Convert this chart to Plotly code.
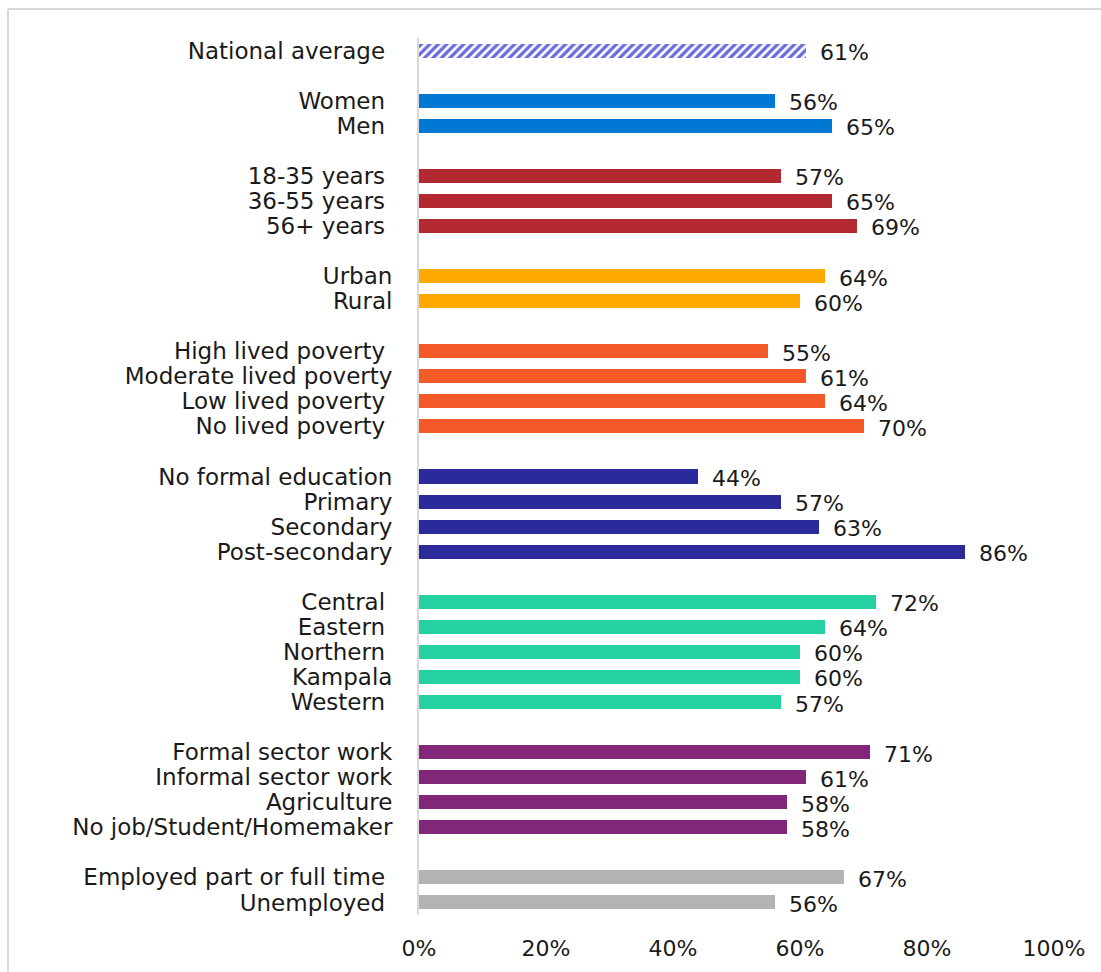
import plotly.graph_objects as go

# Row labels, top to bottom; None marks the blank spacer rows between groups.
labels = [
    "National average\u00a0", None,
    "Women\u00a0", "Men\u00a0", None,
    "18-35 years\u00a0", "36-55 years\u00a0", "56+ years\u00a0", None,
    "Urban", "Rural", None,
    "High lived poverty\u00a0", "Moderate lived poverty", "Low lived poverty\u00a0", "No lived poverty\u00a0", None,
    "No formal education", "Primary", "Secondary", "Post-secondary", None,
    "Central\u00a0", "Eastern\u00a0", "Northern\u00a0", "Kampala", "Western\u00a0", None,
    "Formal sector work", "Informal sector work", "Agriculture", "No job/Student/Homemaker", None,
    "Employed part or full time\u00a0", "Unemployed\u00a0",
]

values = [
    61, None,
    56, 65, None,
    57, 65, 69, None,
    64, 60, None,
    55, 61, 64, 70, None,
    44, 57, 63, 86, None,
    72, 64, 60, 60, 57, None,
    71, 61, 58, 58, None,
    67, 56,
]

group_colors = [
    "#6B6BDD", None,
    "#0078D4", "#0078D4", None,
    "#B22A2F", "#B22A2F", "#B22A2F", None,
    "#FFAA00", "#FFAA00", None,
    "#F4592A", "#F4592A", "#F4592A", "#F4592A", None,
    "#2A2A9A", "#2A2A9A", "#2A2A9A", "#2A2A9A", None,
    "#24D1A0", "#24D1A0", "#24D1A0", "#24D1A0", "#24D1A0", None,
    "#83277A", "#83277A", "#83277A", "#83277A", None,
    "#B3B3B3", "#B3B3B3",
]

x_ticks = [0, 20, 40, 60, 80, 100]
x_tick_text = [f"{t}%" for t in x_ticks]

FONT = "DejaVu Sans"
LABEL_SIZE = 23
VALUE_SIZE = 22
TEXT_COLOR = "#1a1a1a"

rows = [i for i, v in enumerate(values) if v is not None]
vals = [values[i] for i in rows]
cols = [group_colors[i] for i in rows]
ticks = [labels[i] for i in rows]

BAR_WIDTH = 0.56

fig = go.Figure()

# National average: hatched bar
fig.add_trace(go.Bar(
    x=[vals[0]],
    y=[rows[0]],
    orientation="h",
    width=BAR_WIDTH,
    marker=dict(
        color="white",
        line=dict(width=0),
        pattern=dict(
            shape="/",
            fgcolor=cols[0],
            fgopacity=1,
            bgcolor="white",
            size=6,
            solidity=0.55,
            fillmode="overlay",
        ),
    ),
    hoverinfo="skip",
))

# Subgroup bars: solid fills coloured by group
fig.add_trace(go.Bar(
    x=vals[1:],
    y=rows[1:],
    orientation="h",
    width=BAR_WIDTH,
    marker=dict(color=cols[1:], line=dict(width=0)),
    hoverinfo="skip",
))

annotations = []
for y, v in zip(rows, vals):
    annotations.append(dict(
        x=v, y=y, xref="x", yref="y",
        text=f"{v}%",
        showarrow=False,
        xanchor="left",
        yanchor="middle",
        xshift=12,
        yshift=-2,
        font=dict(family=FONT, size=VALUE_SIZE, color=TEXT_COLOR),
    ))

# Chart frame: top and left edges (the others fall outside the page)
frame_left = (8 - 419) / 635
frame_top = (915 - 9) / 877
frame_right = (1101 - 419) / 635
frame_bottom = (915 - 972) / 877
frame_line = dict(color="#d9d9d9", width=2)

fig.update_layout(
    width=1101,
    height=972,
    margin=dict(l=419, r=47, t=38, b=57),
    paper_bgcolor="white",
    plot_bgcolor="white",
    showlegend=False,
    barmode="overlay",
    bargap=0,
    font=dict(family=FONT, size=VALUE_SIZE, color=TEXT_COLOR),
    annotations=annotations,
    shapes=[
        dict(type="line", xref="paper", yref="paper",
             x0=frame_left, x1=frame_right, y0=frame_top, y1=frame_top,
             line=frame_line, layer="below"),
        dict(type="line", xref="paper", yref="paper",
             x0=frame_left, x1=frame_left, y0=frame_top, y1=frame_bottom,
             line=frame_line, layer="below"),
    ],
)

fig.update_xaxes(
    range=[0, 100],
    tickvals=x_ticks,
    ticktext=x_tick_text,
    showgrid=False,
    zeroline=False,
    showline=False,
    ticks="",
    ticklabelstandoff=18,
    tickfont=dict(family=FONT, size=VALUE_SIZE, color=TEXT_COLOR),
    fixedrange=True,
)

fig.update_yaxes(
    range=[len(labels) - 0.5, -0.5],
    tickvals=rows,
    ticktext=ticks,
    showgrid=False,
    zeroline=False,
    showline=True,
    linecolor="#d9d9d9",
    linewidth=2,
    ticks="",
    ticklabelstandoff=20,
    tickfont=dict(family=FONT, size=LABEL_SIZE, color=TEXT_COLOR),
    fixedrange=True,
)

fig.write_html("out.html")
